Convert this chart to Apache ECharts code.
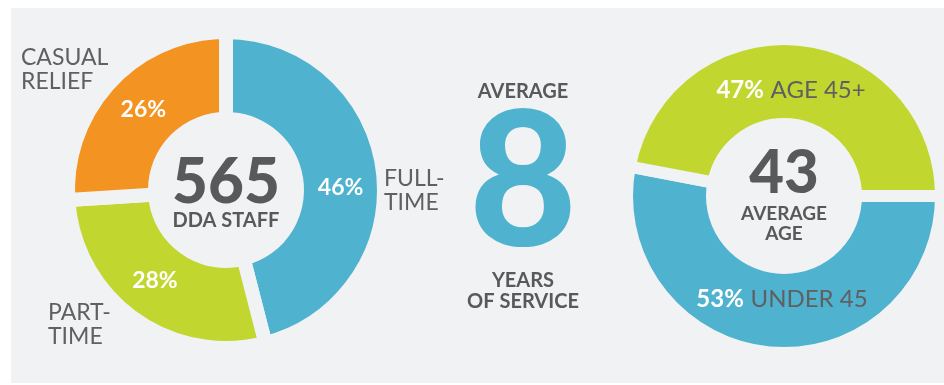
<!DOCTYPE html>
<html>
<head>
<meta charset="utf-8">
<script src="https://cdn.jsdelivr.net/npm/echarts@6/dist/echarts.min.js"></script>
<style>
  html, body { margin: 0; padding: 0; background: #ffffff; }
  #chart { width: 944px; height: 385px; }
</style>
</head>
<body>
<div id="chart"></div>
<script>
// Staff mix
const staffTypes = ['FULL-\nTIME', 'PART-\nTIME', 'CASUAL\nRELIEF'];
const staffShares = [46, 28, 26];
const staffTotal = 565;
const staffCaption = 'DDA STAFF';

// Length of service
const serviceYears = 8;
const serviceTop = 'AVERAGE';
const serviceBottom = 'YEARS\nOF SERVICE';

// Age split
const ageGroups = ['UNDER 45', 'AGE 45+'];
const ageShares = [53, 47];
const averageAge = 43;
const ageCaption = 'AVERAGE\nAGE';

const BLUE = '#4fb3cf';
const GREEN = '#c1d72f';
const ORANGE = '#f39322';
const PANEL = '#f1f2f4';
const INK = '#5f6062';
const DARK = '#58595b';
const FONT = 'Lato, "Open Sans", sans-serif';

const staffColors = [BLUE, GREEN, ORANGE];
const ageColors = [BLUE, GREEN];
// nudges for the in-ring percentage labels
const staffLabelNudge = [[-2, 12], [-2, -4], [3, 0]];
const ageLabelNudge = [[9, -14], [-4, 11]];

const chart = echarts.init(document.getElementById('chart'), null, { renderer: 'canvas' });

const ringStyle = (w) => ({ borderColor: PANEL, borderWidth: w });

// free text sits above the rings
const txt = (x, y, text, font, fill, align, extra) => ({
  type: 'text', z: 100, x, y,
  style: Object.assign({ text, font, fill, align, verticalAlign: 'middle' }, extra || {})
});

const option = {
  animation: false,
  backgroundColor: '#ffffff',
  graphic: [
    { type: 'rect', z: -10, shape: { x: 11, y: 8, width: 933, height: 375 }, style: { fill: PANEL } },
    // outer names for the staff ring
    txt(21, 70, staffTypes[2], '400 23px ' + FONT, INK, 'left', { lineHeight: 24 }),
    txt(384, 191, staffTypes[0], '400 23px ' + FONT, INK, 'left', { lineHeight: 24 }),
    txt(48, 325, staffTypes[1], '400 23px ' + FONT, INK, 'left', { lineHeight: 24 }),
    // staff ring centre
    txt(226, 183, String(staffTotal), '900 62px ' + FONT, DARK, 'center'),
    txt(226, 221, staffCaption, '700 20px ' + FONT, DARK, 'center'),
    // years of service
    txt(523, 92, serviceTop, '700 20px ' + FONT, DARK, 'center'),
    txt(523, 186, String(serviceYears), '900 186px ' + FONT, BLUE, 'center'),
    txt(523, 291, serviceBottom, '700 20px ' + FONT, DARK, 'center', { lineHeight: 21 }),
    // age ring centre
    txt(784, 174, String(averageAge), '900 60px ' + FONT, DARK, 'center'),
    txt(784, 224, ageCaption, '700 19px ' + FONT, DARK, 'center', { lineHeight: 20 })
  ],
  series: [
    {
      type: 'pie',
      silent: true,
      center: [226, 190],
      radius: [71, 158],
      startAngle: 90,
      clockwise: true,
      avoidLabelOverlap: false,
      labelLine: { show: false },
      itemStyle: ringStyle(14),
      label: {
        show: true,
        position: 'inside',
        formatter: '{c}%',
        color: '#ffffff',
        fontFamily: FONT,
        fontWeight: 700,
        fontSize: 23
      },
      data: staffShares.map((v, i) => ({
        name: staffTypes[i],
        value: v,
        itemStyle: { color: staffColors[i] },
        label: { offset: staffLabelNudge[i] }
      }))
    },
    {
      type: 'pie',
      silent: true,
      center: [784, 196],
      radius: [72, 157],
      startAngle: 0,
      clockwise: true,
      avoidLabelOverlap: false,
      labelLine: { show: false },
      itemStyle: ringStyle(12),
      label: {
        show: true,
        position: 'inside',
        formatter: '{p|{c}%}  {n|{b}}',
        rich: {
          p: { color: '#ffffff', fontFamily: FONT, fontWeight: 700, fontSize: 24 },
          n: { color: INK, fontFamily: FONT, fontWeight: 400, fontSize: 24 }
        }
      },
      data: ageShares.map((v, i) => ({
        name: ageGroups[i],
        value: v,
        itemStyle: { color: ageColors[i] },
        label: { offset: ageLabelNudge[i] }
      }))
    }
  ]
};

chart.setOption(option);
</script>
</body>
</html>
